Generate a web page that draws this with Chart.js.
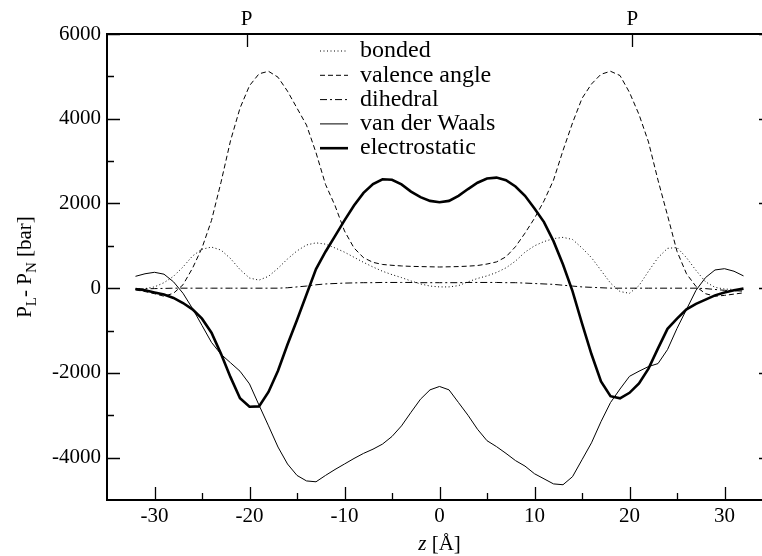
<!DOCTYPE html>
<html>
<head>
<meta charset="utf-8">
<title>Lateral pressure profile</title>
<script src="https://cdn.jsdelivr.net/npm/chart.js@4.4.1/dist/chart.umd.min.js"></script>
<style>
  html, body { margin: 0; padding: 0; background: #fff; overflow: hidden; }
  #wrap { width: 790px; height: 556px; }
</style>
</head>
<body>
<div id="wrap"><canvas id="pressure" width="790" height="556"></canvas></div>
<script>
// z positions across the bilayer (Å)
const zValues = [
  -32, -31, -30, -29, -28, -27, -26, -25, -24, -23,
  -22, -21, -20, -19, -18, -17, -16, -15, -14, -13,
  -12, -11, -10, -9, -8, -7, -6, -5, -4, -3,
  -2, -1, 0, 1, 2, 3, 4, 5, 6, 7,
  8, 9, 10, 11, 12, 13, 14, 15, 16, 17,
  18, 19, 20, 21, 22, 23, 24, 25, 26, 27,
  28, 29, 30, 31, 32
];

// P_L - P_N contributions (bar)
const bonded = [
  -20, -10, 30, 130, 280, 500, 760, 920, 970, 900,
  700, 440, 240, 190, 280, 470, 690, 880, 1020, 1070,
  1040, 950, 850, 730, 610, 500, 400, 320, 250, 170,
  100, 50, 30, 30, 60, 150, 230, 290, 370, 480,
  640, 850, 1000, 1100, 1170, 1200, 1150, 950, 720, 420,
  120, -80, -120, 60, 400, 720, 940, 960, 720, 420,
  150, 20, -20, -30, -40
];
const valenceAngle = [
  -40, -80, -130, -190, -120, 80, 470, 950, 1600, 2500,
  3480, 4250, 4780, 5060, 5120, 4980, 4650, 4250, 3850, 3200,
  2450, 1950, 1350, 950, 720, 610, 560, 540, 525, 515,
  510, 505, 500, 505, 510, 520, 535, 570, 620, 740,
  980, 1300, 1650, 2060, 2550, 3250, 3900, 4480, 4820, 5050,
  5120, 5020, 4620, 4100, 3450, 2550, 1720, 870, 340, 40,
  -130, -190, -170, -140, -110
];
const dihedral = [
  -20, -15, -10, -5, 0, 0, 0, 0, 0, 0,
  0, 0, 0, 0, 0, 0, 10, 30, 50, 80,
  100, 110, 120, 125, 130, 130, 135, 135, 135, 135,
  130, 130, 130, 130, 130, 135, 135, 135, 135, 130,
  130, 120, 110, 100, 90, 70, 50, 30, 20, 10,
  0, 0, 0, 0, 0, 0, 0, 0, 0, 0,
  -10, -30, -50, -60, -70
];
const vanDerWaals = [
  280, 340, 375, 330, 150, -120, -480, -880, -1280, -1560,
  -1760, -1960, -2260, -2760, -3250, -3750, -4150, -4420, -4550, -4570,
  -4420, -4280, -4150, -4020, -3900, -3800, -3680, -3500, -3250, -2930,
  -2620, -2400, -2320, -2400, -2700, -3000, -3330, -3600, -3740, -3900,
  -4070, -4200, -4380, -4500, -4620, -4640, -4450, -4050, -3650, -3150,
  -2700, -2380, -2080, -1960, -1850, -1780, -1450, -950, -500, -50,
  250, 430, 460, 400, 290
];
const electrostatic = [
  -20, -50, -100, -150, -230, -350, -500, -720, -1050, -1550,
  -2100, -2600, -2800, -2790, -2450, -1950, -1330, -750, -150, 450,
  860, 1230, 1600, 1950, 2250, 2460, 2570, 2560, 2450, 2280,
  2150, 2060, 2030, 2060, 2180, 2340, 2490, 2590, 2610, 2550,
  2400, 2180, 1880, 1560, 1110, 560, -70, -830, -1560, -2200,
  -2550, -2600, -2470, -2250, -1900, -1420, -960, -720, -500, -370,
  -270, -170, -100, -50, -10
];

const seriesLabels = ['bonded', 'valence angle', 'dihedral', 'van der Waals', 'electrostatic'];

// axis ticks
const xMajorTicks = [-30, -20, -10, 0, 10, 20, 30];
const xMinorTicks = [-25, -15, -5, 5, 15, 25];
const yMajorTicks = [-4000, -2000, 0, 2000, 4000, 6000];
const yMinorTicks = [-3000, -1000, 1000, 3000, 5000];

// phosphate group positions marked on top
const phosphateZ = [-20.3, 20.3];
const phosphateLabel = 'P';

const SERIF = '"Liberation Serif", "Times New Roman", serif';

function makeSeries(label, values, width, dash) {
  return {
    label: label,
    data: zValues.map((z, i) => ({ x: z, y: values[i] })),
    borderColor: '#000',
    borderWidth: width,
    borderDash: dash,
    pointRadius: 0,
    fill: false,
    tension: 0
  };
}

// frame, inward ticks, axis titles, P markers and legend
const figureDecor = {
  id: 'figureDecor',
  afterDraw(chart) {
    const { ctx, chartArea: area, scales } = chart;
    const xs = scales.x, ys = scales.y;
    ctx.save();
    ctx.strokeStyle = '#000';
    ctx.fillStyle = '#000';

    // ticks pointing into the plot
    ctx.lineWidth = 1.3;
    ctx.beginPath();
    const xTick = (v, len) => {
      const px = Math.round(xs.getPixelForValue(v)) + 0.5;
      ctx.moveTo(px, area.bottom); ctx.lineTo(px, area.bottom - len);
    };
    const yTick = (v, len) => {
      const py = Math.round(ys.getPixelForValue(v)) + 0.5;
      ctx.moveTo(area.left, py); ctx.lineTo(area.left + len, py);
      ctx.moveTo(area.right, py); ctx.lineTo(area.right - len, py);
    };
    xMajorTicks.forEach(v => xTick(v, 13));
    xMinorTicks.forEach(v => xTick(v, 7));
    yMajorTicks.forEach(v => yTick(v, 13));
    yMinorTicks.forEach(v => yTick(v, 7));
    phosphateZ.forEach(v => {
      const px = Math.round(xs.getPixelForValue(v)) + 0.5;
      ctx.moveTo(px, area.top); ctx.lineTo(px, area.top + 13);
    });
    ctx.stroke();

    // frame
    ctx.lineWidth = 2;
    ctx.strokeRect(area.left, area.top, area.right - area.left, area.bottom - area.top);

    // P labels above the frame
    ctx.font = '21px ' + SERIF;
    ctx.textAlign = 'center';
    ctx.textBaseline = 'alphabetic';
    phosphateZ.forEach(v => {
      ctx.fillText(phosphateLabel, xs.getPixelForValue(v), area.top - 9);
    });

    // x axis title: italic z [Å]
    const zPart = 'z', unitPart = ' [Å]';
    ctx.font = 'italic 21px ' + SERIF;
    const wz = ctx.measureText(zPart).width;
    ctx.font = '21px ' + SERIF;
    const wu = ctx.measureText(unitPart).width;
    const tx = xs.getPixelForValue(0) - (wz + wu) / 2;
    const ty = 550;
    ctx.textAlign = 'left';
    ctx.font = 'italic 21px ' + SERIF;
    ctx.fillText(zPart, tx, ty);
    ctx.font = '21px ' + SERIF;
    ctx.fillText(unitPart, tx + wz, ty);

    // y axis title: P_L - P_N [bar], rotated
    const parts = [
      { t: 'P', sub: false }, { t: 'L', sub: true },
      { t: '- P', sub: false }, { t: 'N', sub: true },
      { t: ' [bar]', sub: false }
    ];
    const mainFont = '21px ' + SERIF, subFont = '15px ' + SERIF;
    let total = 0;
    parts.forEach(p => {
      ctx.font = p.sub ? subFont : mainFont;
      p.w = ctx.measureText(p.t).width;
      total += p.w;
    });
    ctx.translate(31, (area.top + area.bottom) / 2);
    ctx.rotate(-Math.PI / 2);
    let cx = -total / 2;
    parts.forEach(p => {
      ctx.font = p.sub ? subFont : mainFont;
      ctx.fillText(p.t, cx, p.sub ? 5 : 0);
      cx += p.w;
    });
    ctx.setTransform(1, 0, 0, 1, 0, 0);

    // legend
    ctx.font = '24px ' + SERIF;
    ctx.textBaseline = 'middle';
    chart.data.datasets.forEach((ds, i) => {
      const ly = 51 + i * 24.3;
      ctx.lineWidth = ds.borderWidth;
      ctx.setLineDash(ds.borderDash || []);
      ctx.beginPath();
      ctx.moveTo(320, ly); ctx.lineTo(348, ly);
      ctx.stroke();
      ctx.setLineDash([]);
      ctx.fillText(ds.label, 360, ly);
    });
    ctx.restore();
  }
};

new Chart(document.getElementById('pressure'), {
  type: 'line',
  data: {
    datasets: [
      makeSeries(seriesLabels[0], bonded, 1, [1, 2.5]),
      makeSeries(seriesLabels[1], valenceAngle, 1, [5, 3]),
      makeSeries(seriesLabels[2], dihedral, 1, [7, 3, 2, 3]),
      makeSeries(seriesLabels[3], vanDerWaals, 1, []),
      makeSeries(seriesLabels[4], electrostatic, 2.6, [])
    ]
  },
  options: {
    responsive: false,
    animation: false,
    devicePixelRatio: 1,
    layout: { padding: { top: 34, right: 18, left: 0, bottom: 0 } },
    plugins: { legend: { display: false }, tooltip: { enabled: false } },
    scales: {
      x: {
        type: 'linear',
        min: -35,
        max: 35,
        afterBuildTicks: s => { s.ticks = xMajorTicks.map(v => ({ value: v })); },
        afterFit: s => { s.height = 56; },
        grid: { display: false, drawTicks: false },
        border: { display: false },
        ticks: {
          color: '#000', padding: 4, maxRotation: 0, autoSkip: false,
          font: { family: SERIF, size: 21 },
          callback: v => String(v)
        }
      },
      y: {
        min: -5000,
        max: 6000,
        afterBuildTicks: s => { s.ticks = yMajorTicks.map(v => ({ value: v })); },
        afterFit: s => { s.width = 107; },
        grid: { display: false, drawTicks: false },
        border: { display: false },
        ticks: {
          color: '#000', padding: 6, autoSkip: false,
          font: { family: SERIF, size: 21 },
          callback: v => String(v)
        }
      }
    }
  },
  plugins: [figureDecor]
});
</script>
</body>
</html>
